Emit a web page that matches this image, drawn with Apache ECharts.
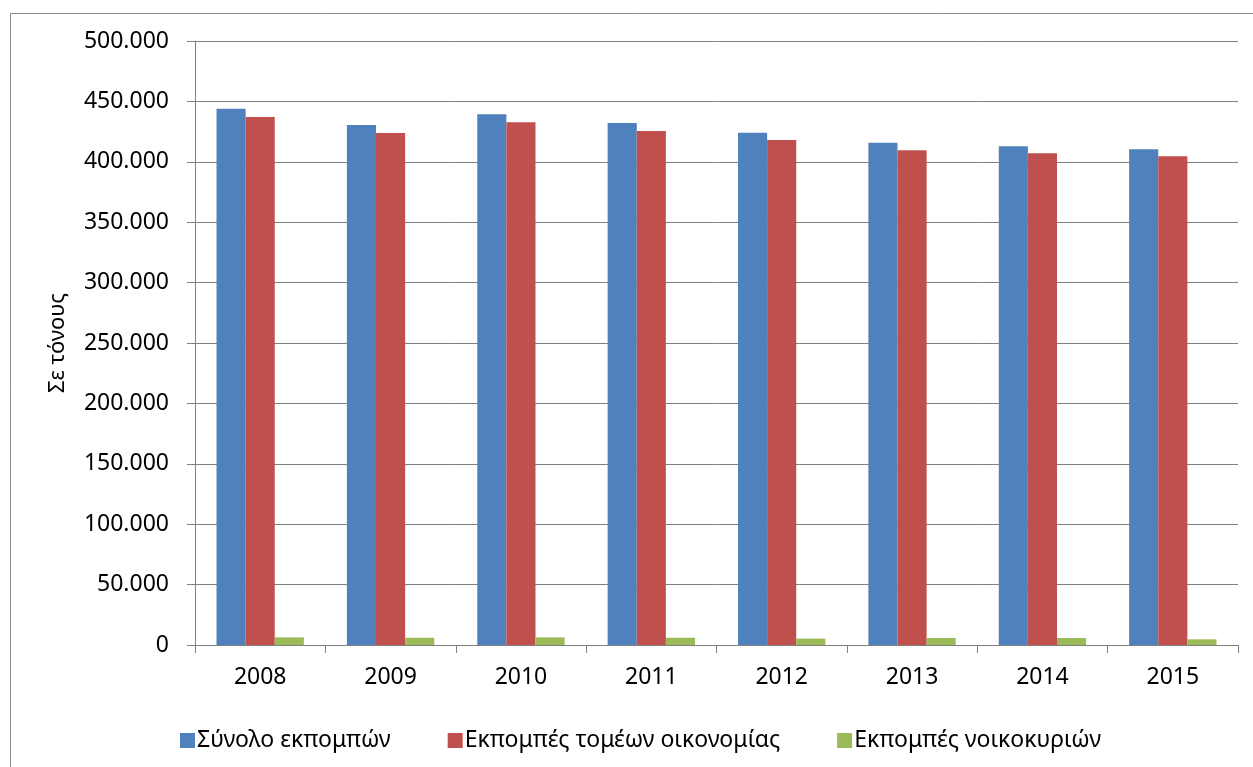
<!DOCTYPE html>
<html>
<head>
<meta charset="utf-8">
<script src="https://cdn.jsdelivr.net/npm/echarts@6/dist/echarts.min.js"></script>
<style>
html,body{margin:0;padding:0;background:#fff;}
#chart{width:1253px;height:767px;}
</style>
</head>
<body>
<div id="chart"></div>
<script>
var years = ['2008','2009','2010','2011','2012','2013','2014','2015'];
var seriesNames = ['Σύνολο εκπομπών','Εκπομπές τομέων οικονομίας','Εκπομπές νοικοκυριών'];
var totalEmissions = [444000, 430500, 439300, 432100, 424100, 415800, 412800, 410300];
var sectorEmissions = [437000, 423900, 432700, 425500, 418000, 409500, 407000, 404500];
var householdEmissions = [6300, 6000, 6300, 6000, 5300, 5800, 5800, 4700];
var yAxisTitle = 'Σε τόνους';

function fmt(v){
  return String(Math.round(v)).replace(/\B(?=(\d{3})+(?!\d))/g, '.');
}

var FONT = 'Noto Sans';
var chart = echarts.init(document.getElementById('chart'), null, {renderer:'canvas'});
var colors = ['#4F81BD','#C0504D','#9BBB59'];
var dataSets = [totalEmissions, sectorEmissions, householdEmissions];

chart.setOption({
  animation:false,
  backgroundColor:'#fff',
  color: colors,
  graphic:[{
    type:'rect', left:8, top:11, shape:{width:1270, height:800},
    style:{fill:'none', stroke:'#8c8c8c', lineWidth:1}, silent:true, z:-1
  }],
  grid:{left:195, right:15, top:41, bottom:122, containLabel:false},
  legend:{
    left:175, top:724,
    itemWidth:15, itemHeight:15, itemGap:57,
    icon:'rect',
    textStyle:{fontFamily:FONT, fontSize:23, color:'#000', padding:[0,0,0,-3]},
    data: seriesNames
  },
  xAxis:{
    type:'category', data: years,
    axisLine:{show:true, lineStyle:{color:'#808080', width:1}},
    axisTick:{show:true, length:8, alignWithLabel:false, lineStyle:{color:'#808080'}},
    axisLabel:{fontFamily:FONT, fontSize:23, color:'#000', margin:21}
  },
  yAxis:{
    type:'value', min:0, max:500000, interval:50000,
    name: yAxisTitle, nameLocation:'middle', nameGap:126, nameRotate:90,
    nameTextStyle:{fontFamily:FONT, fontSize:22, color:'#000'},
    axisLine:{show:true, lineStyle:{color:'#808080', width:1}},
    axisTick:{show:true, length:8, lineStyle:{color:'#808080'}},
    splitLine:{show:true, lineStyle:{color:'#808080', width:1}},
    axisLabel:{fontFamily:FONT, fontSize:23, color:'#000', margin:26, formatter:fmt}
  },
  series: seriesNames.map(function(n,i){
    return {
      name:n, type:'bar', data:dataSets[i],
      barGap:'0%', barCategoryGap:'33%',
      itemStyle:{color:colors[i]}
    };
  })
});
</script>
</body>
</html>
